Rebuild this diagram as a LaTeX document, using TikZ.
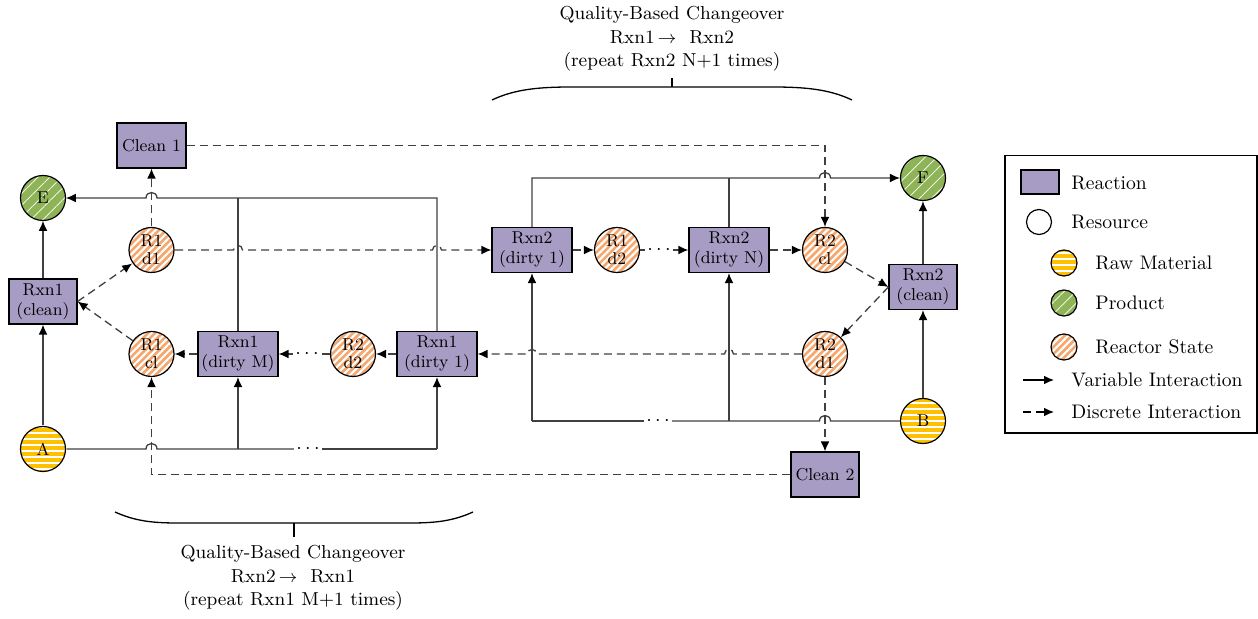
\documentclass[tikz,border=0pt]{standalone}
\usepackage{fontspec}
\usetikzlibrary{arrows.meta,patterns.meta}
\definecolor{rxnc}{RGB}{167,156,195}
\definecolor{orc}{RGB}{245,167,110}
\definecolor{grc}{RGB}{143,180,87}
\definecolor{ylc}{RGB}{255,192,0}
\definecolor{linec}{RGB}{64,64,64}
\tikzset{
  rxnbox/.style={draw, line width=0.6pt, fill=rxnc, minimum width=40pt, minimum height=22.5pt, inner sep=1pt, align=center, font=\fontsize{8.6}{10}\selectfont},
  circbase/.style={circle, draw, line width=0.6pt, minimum size=22.5pt, inner sep=0pt, align=center, font=\fontsize{8.6}{9.2}\selectfont},
  resst/.style={circbase, preaction={fill=orc}, pattern={Lines[angle=45,distance=2.5pt,line width=1.05pt]}, pattern color=white},
  prodc/.style={circbase, preaction={fill=grc}, pattern={Lines[angle=45,distance=4.2pt,line width=0.35pt]}, pattern color=white},
  rawc/.style={circbase, preaction={fill=ylc}, pattern={Lines[angle=0,distance=3pt,line width=1pt]}, pattern color=white},
  ln/.style={draw=linec, line width=0.65pt},
  varr/.style={ln, -{Latex[length=5pt,width=4.4pt,color=black]}},
  dsh/.style={ln, dash pattern=on 4pt off 2.5pt},
  darr/.style={dsh, -{Latex[length=5pt,width=4.4pt,color=black]}},
  dotsn/.style={inner sep=1pt, font=\fontsize{10}{10}\selectfont},
  legtxt/.style={anchor=west, inner sep=0pt, font=\fontsize{9.8}{12}\selectfont},
  bracetxt/.style={align=center, inner sep=0pt, font=\fontsize{9.4}{11.75}\selectfont}
}
\newcommand{\mydots}{\raisebox{-2.5pt}[0pt][0pt]{$\cdots$}}
\begin{document}
\begin{tikzpicture}[x=0.5pt,y=-0.5pt]
\useasboundingbox (0,0) rectangle (1258,619);

% ---------- nodes ----------
\node[rxnbox, minimum width=34.5pt] (cl1) at (151.5,145.5) {Clean 1};
\node[prodc] (E) at (43,198) {E};
\node[resst] (r1d1) at (151.5,250) {R1\\d1};
\node[rxnbox, minimum width=34pt] (rc1) at (43,301.5) {Rxn1\\(clean)};
\node[resst] (r1cl) at (151.5,354) {R1\\cl};
\node[rxnbox] (dM) at (238,354) {Rxn1\\(dirty M)};
\node[resst] (r2d2) at (353,354) {R2\\d2};
\node[rxnbox] (dA) at (437,354) {Rxn1\\(dirty 1)};
\node[rawc] (A) at (43,449) {A};
\node[rxnbox] (s1) at (532,250) {Rxn2\\(dirty 1)};
\node[resst] (r1d2) at (617,250) {R1\\d2};
\node[rxnbox] (sN) at (729,250) {Rxn2\\(dirty N)};
\node[resst] (r2cl) at (825,250) {R2\\cl};
\node[prodc] (F) at (923,178) {F};
\node[rxnbox, minimum width=34pt] (rc2) at (923,287) {Rxn2\\(clean)};
\node[resst] (r2d1) at (825,354) {R2\\d1};
\node[rawc] (B) at (923,421) {B};
\node[rxnbox, minimum width=34pt] (cl2) at (825,474.5) {Clean 2};

% dots
\node[dotsn] (dotA) at (308,449) {\mydots};
\node[dotsn] (dotB) at (658,421) {\mydots};
\node[dotsn] (dotT) at (659,250) {\mydots};
\node[dotsn] (dotL) at (307,354) {\mydots};

% junction coordinates
\coordinate (jAM) at (238,449);
\coordinate (jA1) at (437,449);
\coordinate (jEM) at (238,198);
\coordinate (jE1) at (437,198);
\coordinate (jF1) at (532,178);
\coordinate (jFN) at (729,178);
\coordinate (jB1) at (532,421);
\coordinate (jBN) at (729,421);
\coordinate (kC1) at (825,145.5);
\coordinate (kC2) at (151.5,474.5);

% ---------- variable interactions ----------
\draw[varr] (A) -- (rc1);
\draw[varr] (rc1) -- (E);
\draw[ln] (A) -- (146,449) .. controls (146,441.7) and (157,441.7) .. (157,449) -- (jAM) -- (dotA.west);
\draw[ln] (dotA.east) -- (jA1);
\draw[varr] (jAM) -- (dM);
\draw[varr] (jA1) -- (dA);
\draw[ln] (dM) -- (jEM);
\draw[varr] (dA) -- (jE1) -- (157,198) .. controls (157,190.7) and (146,190.7) .. (146,198) -- (E);

\draw[varr] (s1) -- (jF1) -- (819.5,178) .. controls (819.5,170.7) and (830.5,170.7) .. (830.5,178) -- (F);
\draw[ln] (sN) -- (jFN);
\draw[ln] (B) -- (830.5,421) .. controls (830.5,413.7) and (819.5,413.7) .. (819.5,421) -- (jBN) -- (dotB.east);
\draw[ln] (dotB.west) -- (jB1);
\draw[varr] (jB1) -- (s1);
\draw[varr] (jBN) -- (sN);
\draw[varr] (B) -- (rc2);
\draw[varr] (rc2) -- (F);

% ---------- discrete interactions ----------
\draw[darr] (rc1.east) -- (r1d1);
\draw[darr] (r1cl) -- (rc1.east);
\draw[darr] (r1d1) -- (cl1);
\draw[darr] (cl1) -- (kC1) -- (r2cl);
\draw[darr] (r1d1) -- (233.5,250) .. controls (233.5,244) and (242.5,244) .. (242.5,250)
   -- (432.5,250) .. controls (432.5,244) and (441.5,244) .. (441.5,250) -- (s1);
\draw[darr] (s1) -- (r1d2);
\draw[dsh] (r1d2) -- (dotT.west);
\draw[darr] (dotT.east) -- (sN);
\draw[darr] (sN) -- (r2cl);
\draw[darr] (r2cl) -- (rc2.west);
\draw[darr] (rc2.west) -- (r2d1);
\draw[darr] (r2d1) -- (733.5,354) .. controls (733.5,348) and (724.5,348) .. (724.5,354)
   -- (536.5,354) .. controls (536.5,348) and (527.5,348) .. (527.5,354) -- (dA);
\draw[darr] (r2d1) -- (cl2);
\draw[darr] (cl2) -- (kC2) -- (r1cl);
\draw[darr] (dA) -- (r2d2);
\draw[dsh] (r2d2) -- (dotL.east);
\draw[darr] (dotL.west) -- (dM);
\draw[darr] (dM) -- (r1cl);

% ---------- braces ----------
\draw[line width=0.65pt] (492,100) .. controls (515,89) and (540,87) .. (572,87) -- (772,87) .. controls (804,87) and (829,89) .. (852,100);
\draw[line width=0.65pt] (672,87) -- (672,78);
\node[bracetxt] (tt) at (672,39) {Quality-Based Changeover\\Rxn1\,$\rightarrow$\ \ Rxn2\\(repeat Rxn2 N+1 times)};
\draw[line width=0.65pt] (115,512) .. controls (135,521) and (152,523) .. (178,523) -- (410,523) .. controls (436,523) and (453,521) .. (473,512);
\draw[line width=0.65pt] (294,523) -- (294,537);
\node[bracetxt] (bt) at (293,578) {Quality-Based Changeover\\Rxn2\,$\rightarrow$\ \ Rxn1\\(repeat Rxn1 M+1 times)};

% ---------- legend ----------
\node[draw, line width=0.6pt, minimum width=126pt, minimum height=138.75pt, inner sep=0pt] (leg) at (1131,294.25) {};
\node[draw, line width=0.6pt, fill=rxnc, minimum width=19pt, minimum height=12pt, inner sep=0pt] (lrx) at (1040,182) {};
\node[legtxt] (lt1) at (1071,183) {Reaction};
\node[circle, draw, line width=0.6pt, minimum size=12.5pt, inner sep=0pt] (lres) at (1039,222) {};
\node[legtxt] (lt2) at (1071,222) {Resource};
\node[rawc, minimum size=13pt] (lraw) at (1064,263) {};
\node[legtxt] (lt3) at (1095,263) {Raw Material};
\node[prodc, minimum size=13pt] (lprod) at (1064,303) {};
\node[legtxt] (lt4) at (1095,303) {Product};
\node[resst, minimum size=13pt] (lrst) at (1064,347) {};
\node[legtxt] (lt5) at (1095,347) {Reactor State};
\coordinate (lv1) at (1023,380);
\coordinate (lv2) at (1054,380);
\draw[varr, draw=black] (lv1) -- (lv2);
\node[legtxt] (lt6) at (1071,380) {Variable Interaction};
\coordinate (ld1) at (1023,412);
\coordinate (ld2) at (1054,412);
\draw[darr, draw=black] (ld1) -- (ld2);
\node[legtxt] (lt7) at (1071,412) {Discrete Interaction};
\end{tikzpicture}
\end{document}
